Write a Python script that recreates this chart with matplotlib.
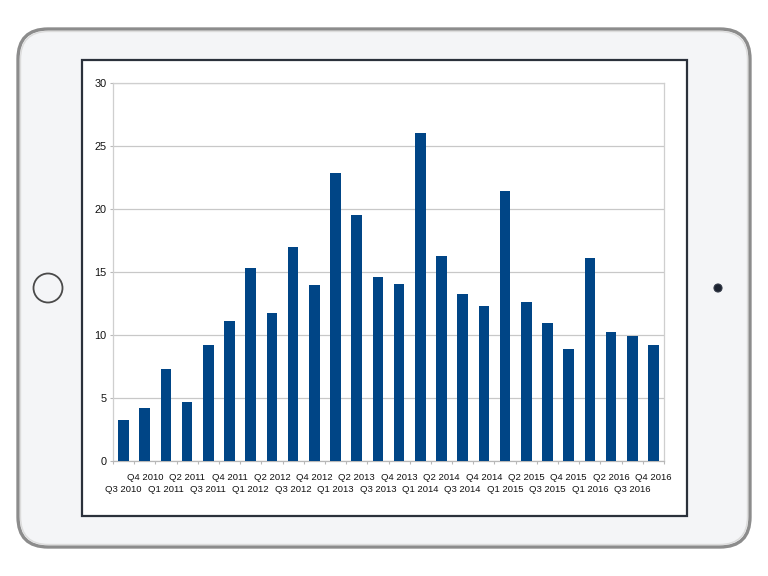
import matplotlib
matplotlib.use("Agg")
import matplotlib.pyplot as plt
import matplotlib.font_manager as fm
from matplotlib.patches import FancyBboxPatch, Rectangle, Circle
from matplotlib.transforms import ScaledTranslation

# ---- data ----
quarters = ["Q3 2010", "Q4 2010",
            "Q1 2011", "Q2 2011", "Q3 2011", "Q4 2011",
            "Q1 2012", "Q2 2012", "Q3 2012", "Q4 2012",
            "Q1 2013", "Q2 2013", "Q3 2013", "Q4 2013",
            "Q1 2014", "Q2 2014", "Q3 2014", "Q4 2014",
            "Q1 2015", "Q2 2015", "Q3 2015", "Q4 2015",
            "Q1 2016", "Q2 2016", "Q3 2016", "Q4 2016"]
values = [3.25, 4.2, 7.3, 4.7, 9.2, 11.1,
          15.3, 11.75, 17.0, 14.0,
          22.85, 19.5, 14.6, 14.05,
          26.0, 16.3, 13.28, 12.3,
          21.4, 12.6, 10.95, 8.87,
          16.1, 10.24, 9.92, 9.23]
y_ticks = [0, 5, 10, 15, 20, 25, 30]

# ---- fonts ----
names = {f.name for f in fm.fontManager.ttflist}
if "Liberation Sans Narrow" in names:
    fam, ysz, xsz = "Liberation Sans Narrow", 8.5, 7.8
else:
    fam, ysz, xsz = "Liberation Sans", 7.8, 6.8
plt.rcParams["font.family"] = [fam, "DejaVu Sans"]

W, H = 768, 576
fig = plt.figure(figsize=(W / 100, H / 100), dpi=100)
fig.patch.set_facecolor("white")

# ---- device frame ----
bg = fig.add_axes([0, 0, 1, 1])
bg.set_xlim(0, W)
bg.set_ylim(H, 0)
bg.axis("off")
bg.add_patch(FancyBboxPatch((18, 29), 732, 518,
                            boxstyle="round,pad=0,rounding_size=30",
                            facecolor="#f4f5f7", edgecolor="#8c8c8c", lw=2.4))
bg.add_patch(FancyBboxPatch((20.5, 31.5), 727, 513,
                            boxstyle="round,pad=0,rounding_size=28",
                            facecolor="none", edgecolor="#dcdcdc", lw=1.0))
bg.add_patch(Rectangle((82, 60), 605, 456, facecolor="white",
                       edgecolor="#2b313b", lw=1.6))
bg.add_patch(Circle((48, 288), 14.5, facecolor="none", edgecolor="#4a4a4a", lw=1.3))
bg.add_patch(Circle((718, 288), 4, facecolor="#1c2330", edgecolor="#333a48", lw=0.8))

# ---- chart ----
left, right, top, bottom = 113, 664, 83, 461
ax = fig.add_axes([left / W, (H - bottom) / H, (right - left) / W, (bottom - top) / H])
x = list(range(len(quarters)))
ax.bar(x, values, width=0.5, color="#004586", zorder=3)
ax.set_xlim(-0.5, len(quarters) - 0.5)
ax.set_ylim(0, 30)
ax.set_yticks(y_ticks)
ax.set_yticklabels([str(v) for v in y_ticks], fontsize=ysz, color="#111111")
ax.yaxis.grid(True, color="#c8c8c8", lw=0.9, zorder=0)
ax.set_axisbelow(True)
for s in ax.spines.values():
    s.set_color("#cfcfcf")
    s.set_linewidth(0.9)
ax.spines["bottom"].set_color("#b8b8b8")
ax.tick_params(axis="y", length=2.5, width=0.8, color="#b8b8b8", pad=2)
ax.set_xticks([i - 0.5 for i in range(len(quarters) + 1)])
ax.set_xticklabels([])
ax.tick_params(axis="x", length=2.5, width=0.8, color="#b8b8b8")

trans = ax.get_xaxis_transform()
for i, q in enumerate(quarters):
    dy = -12 if i % 2 == 1 else -24
    off = ScaledTranslation(0, dy / 100, fig.dpi_scale_trans)
    ax.text(i, 0, q, transform=trans + off, ha="center", va="top",
            fontsize=xsz, color="#111111")

fig.savefig("out.png", dpi=100)
